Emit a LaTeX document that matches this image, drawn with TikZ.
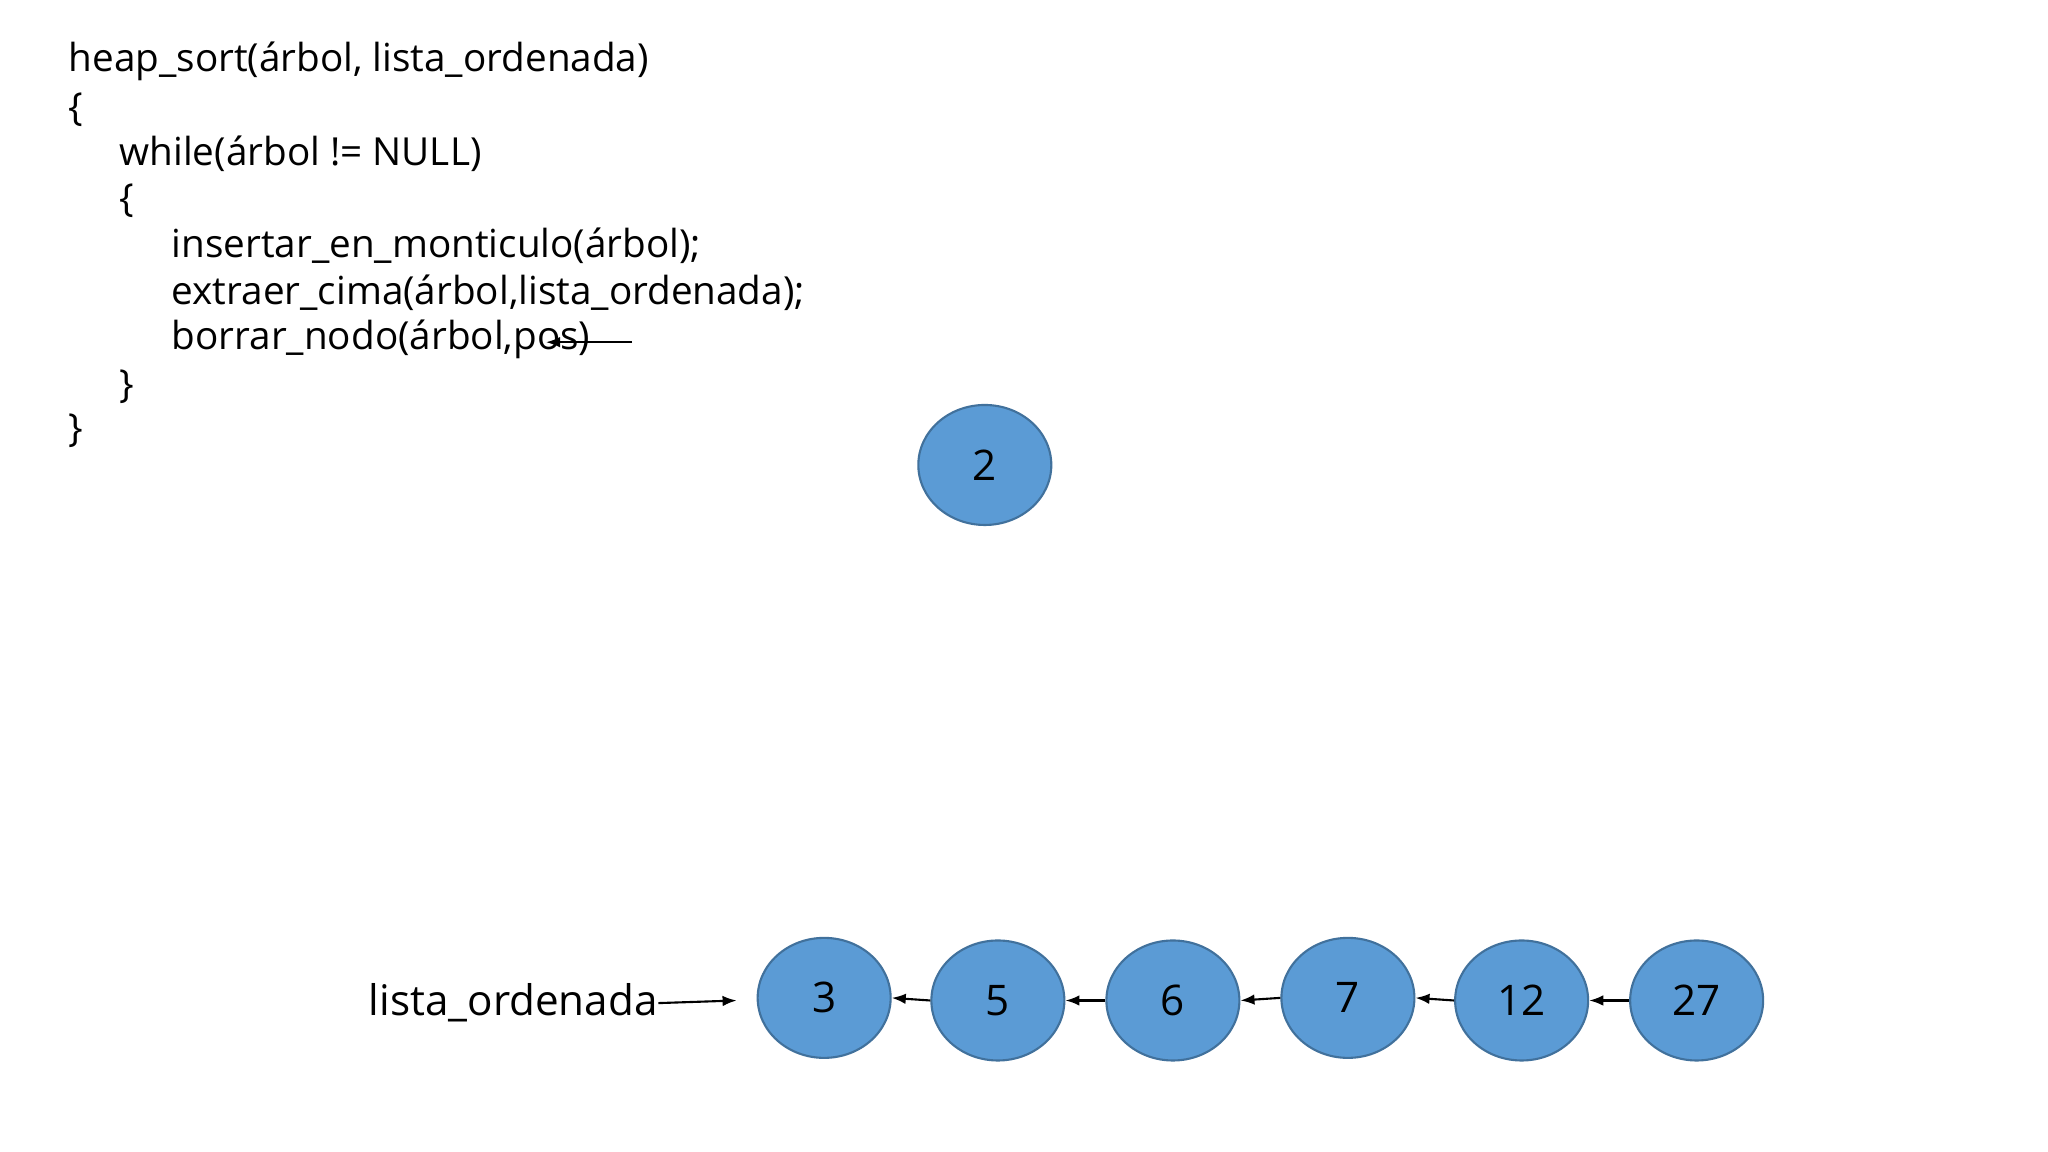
\documentclass[tikz,border=0pt]{standalone}
\usepackage{fontspec}
\setmainfont{Open Sans}
\usetikzlibrary{arrows.meta,shapes.geometric}
\definecolor{ballfill}{HTML}{5B9BD5}
\definecolor{ballline}{HTML}{41719C}
\begin{document}
\begin{tikzpicture}[x=0.013061cm,y=-0.013061cm,
  ball/.style={ellipse,draw=ballline,fill=ballfill,line width=0.6pt,minimum width=1.33cm,minimum height=1.2cm,inner sep=0pt,font=\fontsize{12pt}{14pt}\selectfont},
  code/.style={anchor=west,inner sep=0pt,font=\fontsize{11pt}{13pt}\selectfont},
  arr/.style={-{Latex[length=4pt,width=3pt]},line width=0.6pt}]
\useasboundingbox (0,0) rectangle (1568,882);
\fill[white] (0,0) rectangle (1568,882);
\node[code] (l1) at (52,47) {heap\_sort(árbol, lista\_ordenada)};
\node[code] (l2) at (52,84) {\{};
\node[code] (l3) at (91,118) {while(árbol != NULL)};
\node[code] (l4) at (91,154) {\{};
\node[code] (l5) at (131,188) {insertar\_en\_monticulo(árbol);};
\node[code] (l6) at (131,224) {extraer\_cima(árbol,lista\_ordenada);};
\node[code] (l7) at (131,260) {borrar\_nodo(árbol,pos)};
\node[code] (l8) at (91,296) {\}};
\node[code] (l9) at (52,330) {\}};
\coordinate (pa) at (484,262);
\coordinate (pb) at (418,262);
\draw[arr] (pa) -- (pb);
\node[ball] (n2) at (754,356) {2};
\node[ball] (a) at (631,764) {3};
\node[ball] (b) at (764,766) {5};
\node[ball] (c) at (898,766) {6};
\node[ball] (d) at (1032,764) {7};
\node[ball] (e) at (1165,766) {12};
\node[ball] (f) at (1299,766) {27};
\foreach \u/\v in {b/a,c/b,d/c,e/d,f/e}{\draw[arr] (\u.west) -- (\v.east);}
\node[code,anchor=east,font=\fontsize{12pt}{14pt}\selectfont] (lo) at (504,768) {lista\_ordenada};
\coordinate (lt) at (564,766);
\draw[arr] (lo.east) -- (lt);
\end{tikzpicture}
\end{document}
